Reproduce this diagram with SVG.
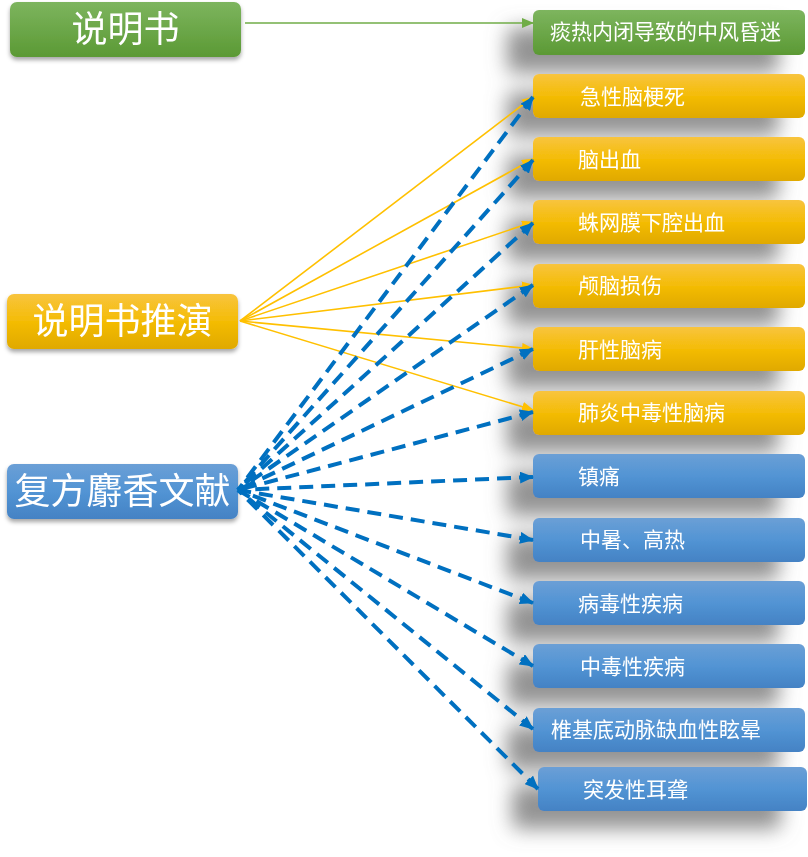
<svg xmlns="http://www.w3.org/2000/svg" width="808" height="857" viewBox="0 0 808 857">
<defs>
<linearGradient id="gG" x1="0" y1="0" x2="0" y2="1"><stop offset="0" stop-color="#7DB55E"/><stop offset="1" stop-color="#5B9934"/></linearGradient>
<linearGradient id="gY" x1="0" y1="0" x2="0" y2="1"><stop offset="0" stop-color="#F8C43E"/><stop offset="0.5" stop-color="#F4BC06"/><stop offset="1" stop-color="#E0A900"/></linearGradient>
<linearGradient id="gB" x1="0" y1="0" x2="0" y2="1"><stop offset="0" stop-color="#6B9FD6"/><stop offset="0.5" stop-color="#5294D4"/><stop offset="1" stop-color="#4482C4"/></linearGradient>
<filter id="bigsh" x="-30%" y="-60%" width="160%" height="260%">
<feGaussianBlur in="SourceAlpha" stdDeviation="10"/>
<feOffset dx="-26" dy="18" result="b"/>
<feFlood flood-color="#787878" flood-opacity="0.8"/>
<feComposite in2="b" operator="in"/>
<feMerge><feMergeNode/><feMergeNode in="SourceGraphic"/></feMerge>
</filter>
<filter id="smsh" x="-10%" y="-20%" width="120%" height="150%">
<feGaussianBlur in="SourceAlpha" stdDeviation="2"/>
<feOffset dx="0" dy="3" result="b"/>
<feFlood flood-color="#000" flood-opacity="0.35"/>
<feComposite in2="b" operator="in"/>
<feMerge><feMergeNode/><feMergeNode in="SourceGraphic"/></feMerge>
</filter>
<marker id="aG" markerUnits="userSpaceOnUse" markerWidth="12" markerHeight="10" refX="11" refY="5" orient="auto"><path d="M0,0 L12,5 L0,10 Z" fill="#70AD47"/></marker>
<marker id="aY" markerUnits="userSpaceOnUse" markerWidth="12" markerHeight="10" refX="11" refY="5" orient="auto"><path d="M0,0 L12,5 L0,10 Z" fill="#FFC000"/></marker>
<marker id="aB" markerUnits="userSpaceOnUse" markerWidth="14" markerHeight="12" refX="13" refY="6" orient="auto-start-reverse"><path d="M0,0 L14,6 L0,12 Z" fill="#0070C0"/></marker>
</defs>
<style>
.lt{font-family:"Noto Sans CJK SC","Noto Sans",sans-serif;font-size:36px;fill:#fff;text-anchor:middle;}
.rt{font-family:"Noto Sans CJK SC","Noto Sans",sans-serif;font-size:21px;fill:#fff;}
.g{fill:url(#gG);}
.y{fill:url(#gY);}
.b{fill:url(#gB);}
.yl{stroke:#FFC000;stroke-width:1.6;fill:none;marker-end:url(#aY);}
.bl{stroke:#0070C0;stroke-width:4;stroke-dasharray:14 8;fill:none;marker-start:url(#aB);}
</style>
<g id="right-nodes" filter="url(#bigsh)">
<g id="n-r0"><rect x="533" y="10" width="272" height="45" rx="6" class="g"/><text x="550" y="39" class="rt">痰热内闭导致的中风昏迷</text></g>
<g id="n-r1"><rect x="533" y="74" width="272" height="44" rx="6" class="y"/><text x="580" y="104" class="rt">急性脑梗死</text></g>
<g id="n-r2"><rect x="533" y="137" width="272" height="44" rx="6" class="y"/><text x="578" y="167" class="rt">脑出血</text></g>
<g id="n-r3"><rect x="533" y="200" width="272" height="44" rx="6" class="y"/><text x="578" y="230" class="rt">蛛网膜下腔出血</text></g>
<g id="n-r4"><rect x="533" y="264" width="272" height="44" rx="6" class="y"/><text x="578" y="293" class="rt">颅脑损伤</text></g>
<g id="n-r5"><rect x="533" y="327" width="272" height="44" rx="6" class="y"/><text x="578" y="357" class="rt">肝性脑病</text></g>
<g id="n-r6"><rect x="533" y="391" width="272" height="44" rx="6" class="y"/><text x="578" y="420" class="rt">肺炎中毒性脑病</text></g>
<g id="n-r7"><rect x="533" y="454" width="272" height="44" rx="6" class="b"/><text x="578" y="484" class="rt">镇痛</text></g>
<g id="n-r8"><rect x="533" y="518" width="272" height="44" rx="6" class="b"/><text x="580" y="547" class="rt">中暑、高热</text></g>
<g id="n-r9"><rect x="533" y="581" width="272" height="44" rx="6" class="b"/><text x="578" y="611" class="rt">病毒性疾病</text></g>
<g id="n-r10"><rect x="533" y="644" width="272" height="44" rx="6" class="b"/><text x="580" y="674" class="rt">中毒性疾病</text></g>
<g id="n-r11"><rect x="533" y="708" width="272" height="44" rx="6" class="b"/><text x="551" y="737" class="rt">椎基底动脉缺血性眩晕</text></g>
<g id="n-r12"><rect x="538" y="767" width="269" height="44" rx="6" class="b"/><text x="583" y="797" class="rt">突发性耳聋</text></g>
</g>
<g id="left-nodes" filter="url(#smsh)">
<g id="n-l0"><rect x="10" y="2" width="231" height="55" rx="7" class="g"/><text x="125.5" y="42" class="lt">说明书</text></g>
<g id="n-l1"><rect x="7" y="294" width="231" height="55" rx="7" class="y"/><text x="122.5" y="334" class="lt">说明书推演</text></g>
<g id="n-l2"><rect x="7" y="464" width="231" height="55" rx="7" class="b"/><text x="122.5" y="504" class="lt">复方麝香文献</text></g>
</g>
<g id="connectors">
<line x1="245" y1="23" x2="533" y2="23" stroke="#70AD47" stroke-width="1.6" marker-end="url(#aG)"/>
<line x1="240" y1="321" x2="533" y2="97" class="yl"/>
<line x1="240" y1="321" x2="533" y2="159" class="yl"/>
<line x1="240" y1="321" x2="533" y2="222" class="yl"/>
<line x1="240" y1="321" x2="533" y2="285" class="yl"/>
<line x1="240" y1="321" x2="533" y2="349" class="yl"/>
<line x1="240" y1="321" x2="533" y2="410" class="yl"/>
<line x2="238" y2="490" x1="533" y1="97" class="bl"/>
<line x2="238" y2="490" x1="533" y1="160" class="bl"/>
<line x2="238" y2="490" x1="533" y1="223" class="bl"/>
<line x2="238" y2="490" x1="533" y1="285" class="bl"/>
<line x2="238" y2="490" x1="533" y1="349" class="bl"/>
<line x2="238" y2="490" x1="533" y1="412" class="bl"/>
<line x2="238" y2="490" x1="533" y1="477" class="bl"/>
<line x2="238" y2="490" x1="533" y1="540" class="bl"/>
<line x2="238" y2="490" x1="533" y1="603" class="bl"/>
<line x2="238" y2="490" x1="533" y1="666" class="bl"/>
<line x2="238" y2="490" x1="533" y1="729" class="bl"/>
<line x2="238" y2="490" x1="538" y1="789" class="bl"/>
</g>
</svg>
